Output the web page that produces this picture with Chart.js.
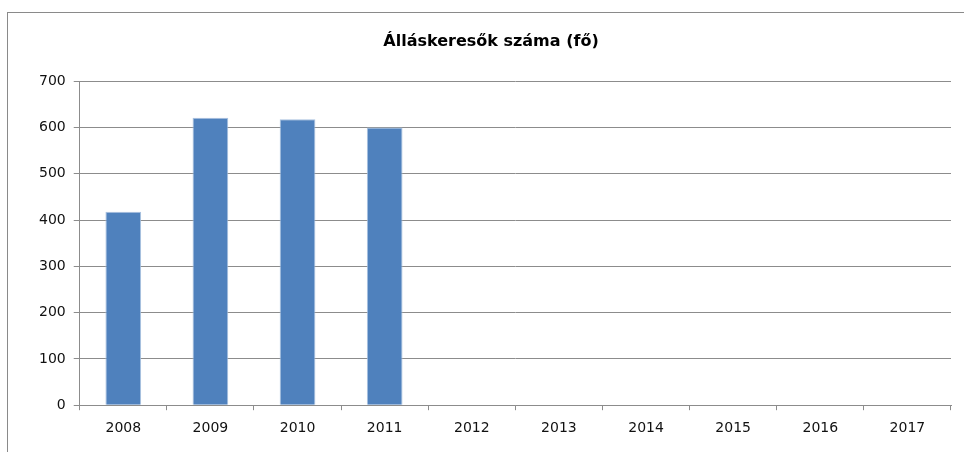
<!DOCTYPE html>
<html>
<head>
<meta charset="utf-8">
<script src="https://cdn.jsdelivr.net/npm/chart.js@4/dist/chart.umd.min.js"></script>
<style>
  body { margin: 0; background: #fff; }
  #wrap { position: relative; width: 964px; height: 452px; overflow: hidden; }
  #frame { position: absolute; left: 7px; top: 12px; width: 1000px; height: 500px;
           border-left: 1px solid #8a8a8a; border-top: 1px solid #8a8a8a; }
  #growthChart { position: absolute; left: 0; top: 0; }
</style>
</head>
<body>
<div id="wrap">
  <div id="frame"></div>
  <canvas id="growthChart" width="964" height="452"></canvas>
</div>
<script>

// ===== Data =====

const years = ["2008", "2009", "2010", "2011", "2012", "2013", "2014", "2015", "2016", "2017"];

const jobSeekers = [418, 621, 618, 600, null, null, null, null, null, null];

const yTicks = [0, 100, 200, 300, 400, 500, 600, 700];

const chartTitle = "Álláskeresők száma (fő)";


// ===== Chart =====

const chart = document.getElementById("growthChart");

new Chart(chart, {

    type: "bar",

    data: {
        labels: years,
        datasets: [{
            label: chartTitle,
            data: jobSeekers,
            backgroundColor: "#4f81bd",
            borderColor: "#a9c1df",
            borderWidth: 1,
            barPercentage: 0.41,
            categoryPercentage: 1
        }]
    },

    options: {
        responsive: false,
        animation: false,
        layout: {
            padding: { left: 31, right: 13, top: 18, bottom: 5 }
        },
        plugins: {
            legend: { display: false },
            tooltip: { enabled: false },
            title: {
                display: true,
                text: chartTitle,
                color: "#000",
                font: { family: "'DejaVu Sans'", size: 16, weight: "bold" },
                padding: { top: 14, bottom: 30 }
            }
        },
        scales: {
            x: {
                grid: {
                    offset: true,
                    drawOnChartArea: false,
                    drawTicks: true,
                    tickLength: 5,
                    color: "#8c8c8c"
                },
                border: { display: true, color: "#8c8c8c" },
                ticks: {
                    color: "#111",
                    padding: 10,
                    font: { family: "'DejaVu Sans'", size: 14 }
                }
            },
            y: {
                min: 0,
                max: 700,
                afterBuildTicks: (axis) => {
                    axis.ticks = yTicks.map(v => ({ value: v }));
                },
                grid: {
                    color: "#8c8c8c",
                    tickLength: 6
                },
                border: { display: true, color: "#8c8c8c" },
                ticks: {
                    color: "#111",
                    padding: 8,
                    font: { family: "'DejaVu Sans'", size: 14 }
                }
            }
        }
    }

});

</script>
</body>
</html>
